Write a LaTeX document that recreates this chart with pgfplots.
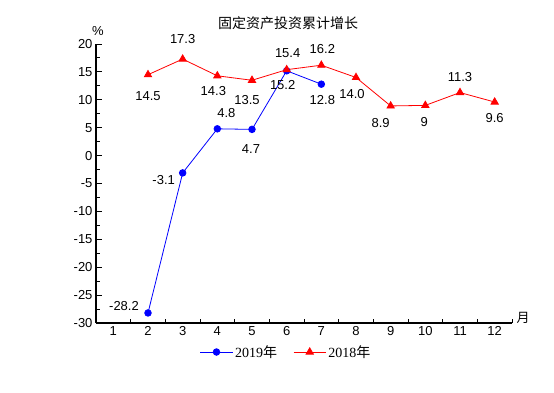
\documentclass[border=0pt]{standalone}
\usepackage{pgfplots}
\pgfplotsset{compat=1.18}
\usepackage{pgfplotstable}
\usepackage{fontspec}
\setmainfont{Liberation Sans}
\newfontfamily\cjk{Noto Sans CJK SC}
\newfontfamily\tnr{Liberation Serif}
\pgfplotstableread{
x y dx dy lab
2 -28.2 -24 7 -28.2
3 -3.1 -19 -7 -3.1
4 4.8 9 16 4.8
5 4.7 -1 -20 4.7
6 15.2 -4 -14 15.2
7 12.8 1 -16 12.8
}\dataA
\pgfplotstableread{
x y dx dy lab
2 14.5 0 -21 14.5
3 17.3 0 20 17.3
4 14.3 -4 -15 14.3
5 13.5 -5 -20 13.5
6 15.4 1 17 15.4
7 16.2 1 16 16.2
8 14.0 -4 -17 14.0
9 8.9 -10 -17 8.9
10 9 -1 -17 9
11 11.3 0 16 11.3
12 9.6 0 -16 9.6
}\dataB
\begin{document}
\begin{tikzpicture}[x=1pt,y=1pt]
\path[use as bounding box] (0,0) rectangle (554,392);
\begin{axis}[
  at={(96pt,69pt)}, anchor=south west,
  scale only axis, width=416pt, height=279pt,
  xmin=0.5, xmax=12.5, ymin=-30, ymax=20,
  axis x line=bottom, axis y line=left,
  axis line style={-, line width=1.1pt, black},
  xtick={1,...,12},
  minor xtick={0.5,1.5,...,12.5},
  major x tick style={draw=none},
  ytick={-30,-25,-20,-15,-10,-5,0,5,10,15,20},
  yticklabels={-30,-25,-20,-15,-10,-5,0,5,10,15,20},
  minor ytick={-27.5,-22.5,-17.5,-12.5,-7.5,-2.5,2.5,7.5,12.5,17.5},
  tick align=inside, major tick length=6pt, minor tick length=4pt,
  tick style={line width=1pt, black},
  /pgf/number format/assume math mode=true,
  tick label style={font=\fontsize{13}{15}\selectfont},
  clip=false,
  point meta=explicit symbolic,
  nodes near coords,
  visualization depends on={\thisrow{dx} \as \dx},
  visualization depends on={\thisrow{dy} \as \dy},
  every node near coord/.append style={anchor=center, xshift=\dx pt, yshift=\dy pt, font=\fontsize{13}{15}\selectfont, text=black, inner sep=0pt},
  legend style={at={(0.457,-0.104)}, anchor=center, draw=none, fill=none,
    legend columns=2, font=\fontsize{14}{16}\selectfont,
    /tikz/every even column/.append style={column sep=14pt}},
  legend image code/.code={\draw[mark repeat=2,mark phase=2] plot coordinates {(0cm,0cm) (0.57cm,0cm) (1.14cm,0cm)};},
]
\addplot[blue, line width=0.8pt, mark=*, mark size=3.3pt, mark options={fill=blue}] table[x=x, y=y, meta=lab] {\dataA};
\addlegendentry{{\tnr 2019}{\cjk 年}}
\addplot[red, line width=0.8pt, mark=triangle*, mark size=4.2pt, mark options={fill=red}] table[x=x, y=y, meta=lab] {\dataB};
\addlegendentry{{\tnr 2018}{\cjk 年}}
\end{axis}
\node[font=\cjk\fontsize{14}{16}\selectfont] at (288,369) {固定资产投资累计增长};
\node[font=\fontsize{13}{15}\selectfont] at (98,361) {\%};
\node[font=\cjk\fontsize{13}{15}\selectfont] at (523,74) {月};
\end{tikzpicture}
\end{document}
